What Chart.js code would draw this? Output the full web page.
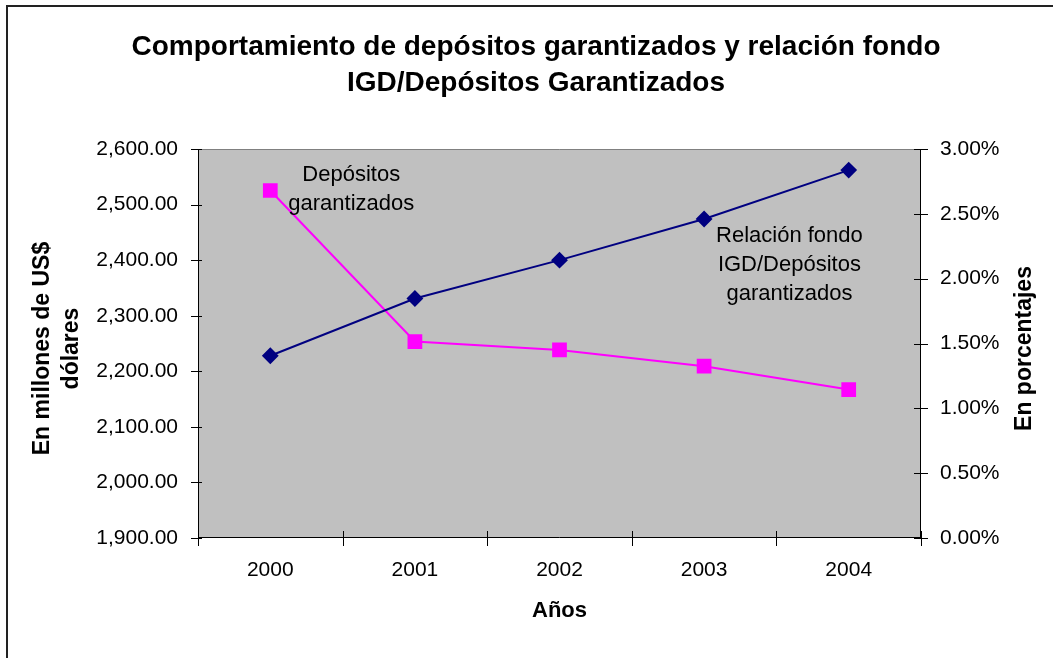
<!DOCTYPE html>
<html>
<head>
<meta charset="utf-8">
<script src="https://cdn.jsdelivr.net/npm/chart.js@4"></script>
<style>
  html, body { margin: 0; padding: 0; background: #ffffff; }
  #wrap { width: 1053px; height: 658px; }
</style>
</head>
<body>
<div id="wrap"><canvas id="grafico" width="1053" height="658"></canvas></div>
<script>
// Datos del gráfico
const anios = ["2000", "2001", "2002", "2003", "2004"];
const depositos = [2228, 2331, 2400, 2474, 2562];          // millones de US$ (eje izquierdo)
const relacionFondo = [2.68, 1.515, 1.45, 1.325, 1.145];  // porcentajes (eje derecho)

const titulo = ["Comportamiento de depósitos garantizados y relación fondo", "IGD/Depósitos Garantizados"];
const tituloEjeIzq = ["En millones de US$", "dólares"];
const tituloEjeDer = "En porcentajes";
const tituloEjeX = "Años";

// Notas dentro del área de trazado (índice de categoría, valor eje izquierdo)
const notas = [
  { lineas: ["Depósitos", "garantizados"], x: 0.56, y: 2528 },
  { lineas: ["Relación fondo", "IGD/Depósitos", "garantizados"], x: 3.59, y: 2391 }
];

const FUENTE = "'Liberation Sans', Arial, sans-serif";

// Plugin: fondo, marco, títulos, marcas de ejes y notas
const decoracion = {
  id: "decoracion",
  beforeDraw(chart) {
    const { ctx, chartArea: a } = chart;
    ctx.save();
    ctx.fillStyle = "#ffffff";
    ctx.fillRect(0, 0, chart.width, chart.height);
    // marco del gráfico
    ctx.strokeStyle = "#222222";
    ctx.lineWidth = 2;
    ctx.strokeRect(7, 6, chart.width + 20, chart.height + 20);
    // área de trazado gris
    ctx.fillStyle = "#c0c0c0";
    ctx.fillRect(a.left, a.top, a.right - a.left, a.bottom - a.top);
    ctx.restore();
  },
  afterDatasetsDraw(chart) {
    const { ctx, chartArea: a, scales } = chart;
    ctx.save();
    // bordes del área de trazado
    ctx.lineWidth = 1;
    ctx.strokeStyle = "#808080";
    ctx.beginPath();
    ctx.moveTo(a.left, a.top + 0.5);
    ctx.lineTo(a.right, a.top + 0.5);
    ctx.stroke();
    ctx.strokeStyle = "#000000";
    ctx.beginPath();
    ctx.moveTo(a.left + 0.5, a.top);
    ctx.lineTo(a.left + 0.5, a.bottom);
    ctx.moveTo(a.right - 0.5, a.top);
    ctx.lineTo(a.right - 0.5, a.bottom);
    ctx.moveTo(a.left, a.bottom - 0.5);
    ctx.lineTo(a.right, a.bottom - 0.5);
    ctx.stroke();

    // marcas cruzadas
    ctx.beginPath();
    scales.y.ticks.forEach((t) => {
      const py = Math.round(scales.y.getPixelForValue(t.value)) + 0.5;
      ctx.moveTo(a.left - 7, py);
      ctx.lineTo(a.left + 4, py);
    });
    scales.y1.ticks.forEach((t) => {
      const py = Math.round(scales.y1.getPixelForValue(t.value)) + 0.5;
      ctx.moveTo(a.right - 7, py);
      ctx.lineTo(a.right + 7, py);
    });
    for (let i = 0; i <= anios.length; i++) {
      const px = Math.round(scales.x.getPixelForValue(i - 0.5)) + 0.5;
      ctx.moveTo(px, a.bottom - 7);
      ctx.lineTo(px, a.bottom + 8);
    }
    ctx.stroke();

    // notas
    ctx.fillStyle = "#000000";
    ctx.font = "22px " + FUENTE;
    ctx.textAlign = "center";
    ctx.textBaseline = "middle";
    notas.forEach((n) => {
      const cx = scales.x.getPixelForValue(n.x);
      const cy = scales.y.getPixelForValue(n.y);
      const alto = 29;
      n.lineas.forEach((l, i) => {
        ctx.fillText(l, cx, cy + (i - (n.lineas.length - 1) / 2) * alto);
      });
    });

    // título
    ctx.font = "bold 28px " + FUENTE;
    ctx.fillText(titulo[0], 536, 47);
    ctx.fillText(titulo[1], 536, 83);

    // título eje X
    ctx.font = "bold 22px " + FUENTE;
    ctx.fillText(tituloEjeX, (a.left + a.right) / 2, 611);

    // título eje izquierdo (rotado)
    const cyMid = (a.top + a.bottom) / 2 + 5;
    ctx.font = "bold 23px " + FUENTE;
    ctx.save();
    ctx.translate(43, cyMid);
    ctx.rotate(-Math.PI / 2);
    ctx.fillText(tituloEjeIzq[0], 0, 0);
    ctx.fillText(tituloEjeIzq[1], 0, 29);
    ctx.restore();

    // título eje derecho (rotado)
    ctx.save();
    ctx.translate(1025, cyMid);
    ctx.rotate(-Math.PI / 2);
    ctx.fillText(tituloEjeDer, 0, 0);
    ctx.restore();

    ctx.restore();
  }
};

new Chart(document.getElementById("grafico"), {
  type: "line",
  data: {
    labels: anios,
    datasets: [
      {
        label: "Depósitos garantizados",
        data: depositos,
        yAxisID: "y",
        borderColor: "#000080",
        backgroundColor: "#000080",
        borderWidth: 2,
        pointStyle: "rectRot",
        pointRadius: 7,
        pointHoverRadius: 7,
        tension: 0
      },
      {
        label: "Relación fondo IGD/Depósitos garantizados",
        data: relacionFondo,
        yAxisID: "y1",
        borderColor: "#ff00ff",
        backgroundColor: "#ff00ff",
        borderWidth: 2,
        pointStyle: "rect",
        pointRadius: 9,
        pointHoverRadius: 9,
        tension: 0
      }
    ]
  },
  options: {
    responsive: false,
    animation: false,
    devicePixelRatio: 1,
    layout: { padding: { top: 149, left: 0, right: 0, bottom: 0 } },
    plugins: {
      legend: { display: false },
      title: { display: false },
      tooltip: { enabled: false }
    },
    scales: {
      x: {
        offset: true,
        grid: { display: false, drawTicks: false },
        border: { display: false },
        ticks: { color: "#000000", padding: 20, font: { family: FUENTE, size: 21 } },
        afterFit: (s) => { s.height = 120; }
      },
      y: {
        position: "left",
        min: 1900,
        max: 2600,
        grid: { display: false, drawTicks: false },
        border: { display: false },
        ticks: {
          stepSize: 100,
          color: "#000000",
          padding: 20,
          font: { family: FUENTE, size: 21 },
          callback: (v) => v.toLocaleString("en-US", { minimumFractionDigits: 2, maximumFractionDigits: 2 })
        },
        afterFit: (s) => { s.width = 198; }
      },
      y1: {
        position: "right",
        min: 0,
        max: 3,
        grid: { display: false, drawTicks: false },
        border: { display: false },
        ticks: {
          stepSize: 0.5,
          color: "#000000",
          padding: 19,
          font: { family: FUENTE, size: 21 },
          callback: (v) => v.toFixed(2) + "%"
        },
        afterFit: (s) => { s.width = 132; }
      }
    }
  },
  plugins: [decoracion]
});
</script>
</body>
</html>
